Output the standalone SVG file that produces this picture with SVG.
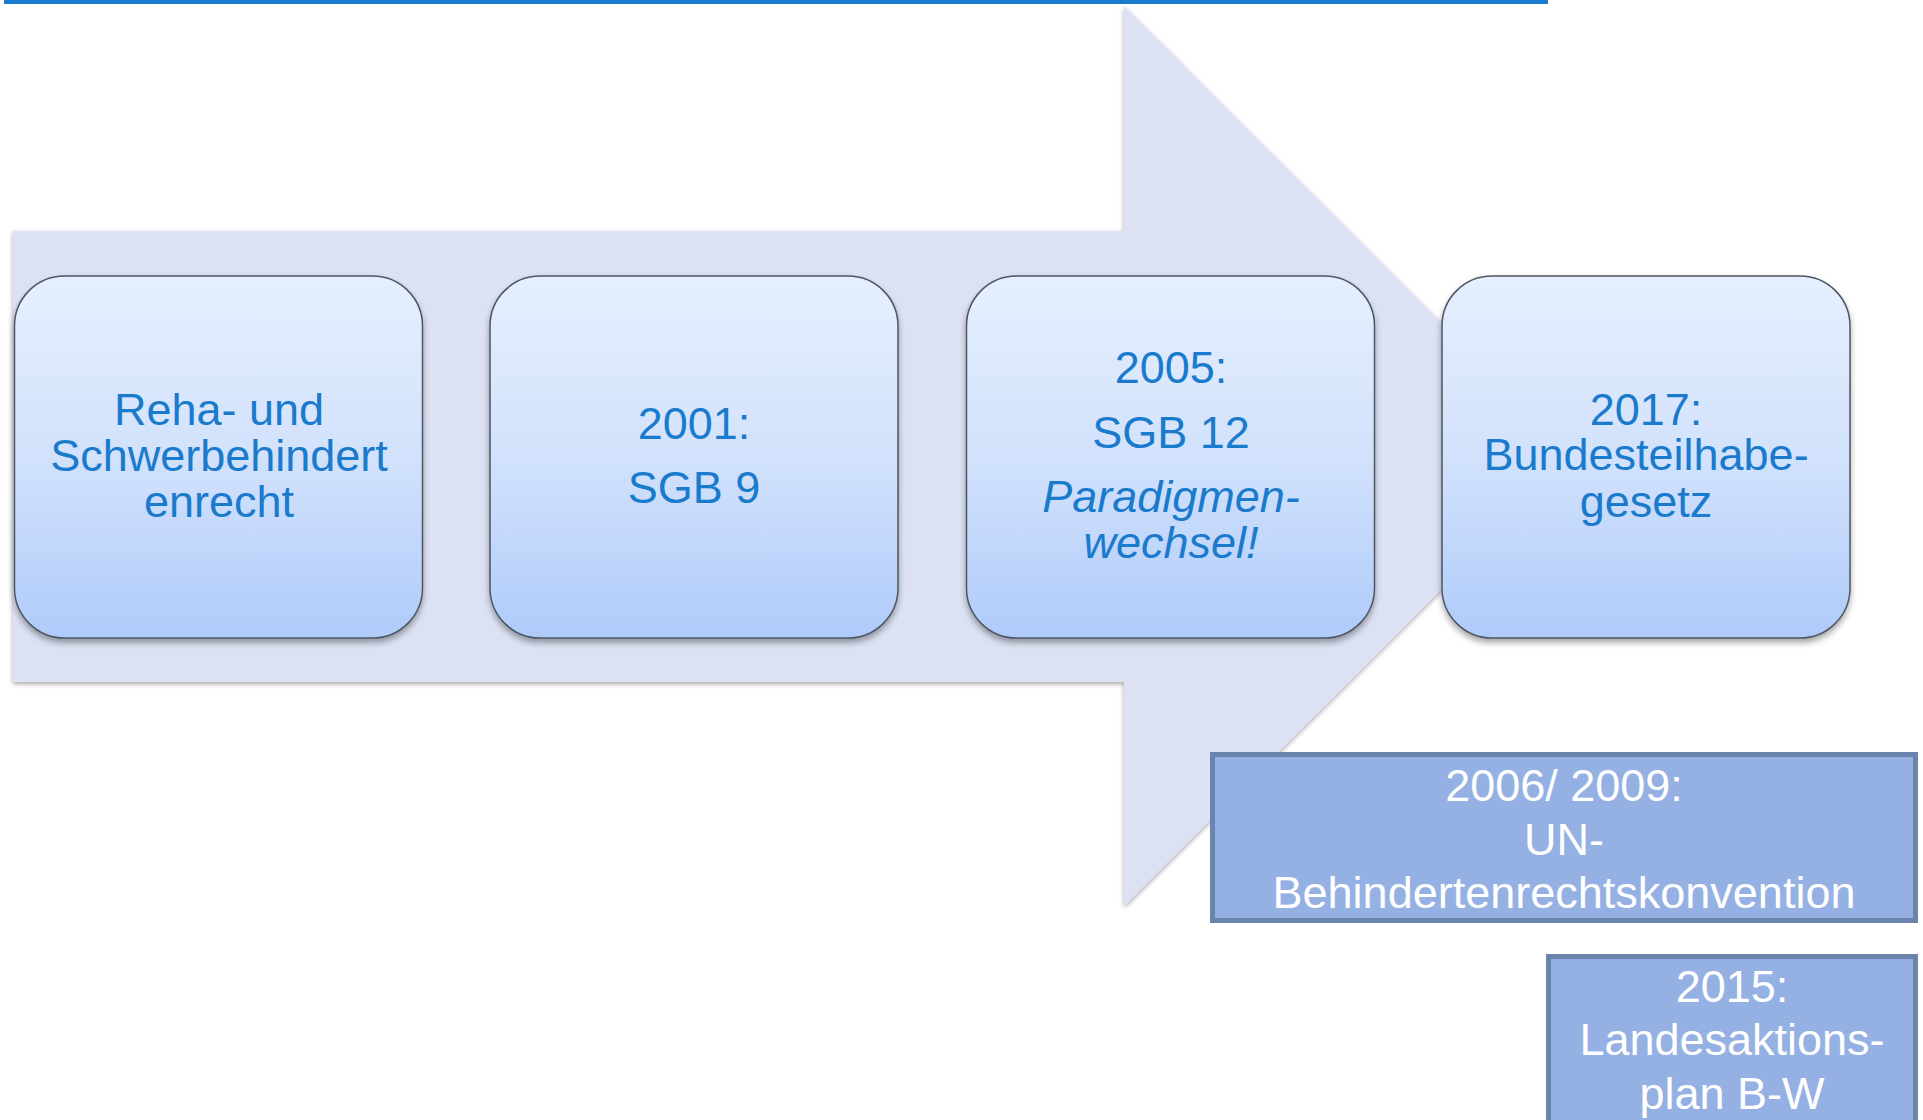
<svg xmlns="http://www.w3.org/2000/svg" width="1923" height="1120" viewBox="0 0 1923 1120">
  <defs>
    <linearGradient id="boxFill" x1="0" y1="0" x2="0" y2="1">
      <stop offset="0" stop-color="#E5EFFE"/>
      <stop offset="0.5" stop-color="#D2E2FC"/>
      <stop offset="1" stop-color="#AFCBFA"/>
    </linearGradient>
    <filter id="arrowShadow" x="-5%" y="-5%" width="110%" height="110%">
      <feGaussianBlur in="SourceAlpha" stdDeviation="2.5"/>
      <feOffset dx="0" dy="2" result="blur"/>
      <feComponentTransfer><feFuncA type="linear" slope="0.35"/></feComponentTransfer>
      <feMerge><feMergeNode/><feMergeNode in="SourceGraphic"/></feMerge>
    </filter>
    <filter id="boxShadow" x="-10%" y="-10%" width="120%" height="125%">
      <feGaussianBlur in="SourceAlpha" stdDeviation="3"/>
      <feOffset dx="0" dy="4" result="blur"/>
      <feComponentTransfer><feFuncA type="linear" slope="0.35"/></feComponentTransfer>
      <feMerge><feMergeNode/><feMergeNode in="SourceGraphic"/></feMerge>
    </filter>
  </defs>
  <style>
    .step { fill: url(#boxFill); stroke: #4E5662; stroke-width: 1.5; filter: url(#boxShadow); }
    .step-text { font-family: "Liberation Sans", Arial, sans-serif; font-size: 45px; fill: #1A7ACC; text-anchor: middle; }
    .em { font-style: italic; }
    .note { fill: #95B0E3; stroke: #6B84AE; stroke-width: 5; }
    .note-text { font-family: "Liberation Sans", Arial, sans-serif; font-size: 45px; fill: #FFFFFF; text-anchor: middle; }
  </style>

  <rect width="1923" height="1120" fill="#FFFFFF"/>

  <!-- title rule -->
  <rect x="4" y="0" width="1544" height="4" fill="#1A7BCF"/>

  <!-- background arrow -->
  <g id="connectors">
    <polygon id="timeline-arrow" points="13,231 1124,231 1124,6 1575,456 1124,906 1124,682 13,682" fill="#DCE2F3" filter="url(#arrowShadow)"/>
  </g>

  <g id="step-reha">
    <rect class="step" x="14.5" y="276" width="408" height="362" rx="50" ry="50"/>
    <text class="step-text" x="219" y="425">Reha- und</text>
    <text class="step-text" x="219" y="471">Schwerbehindert</text>
    <text class="step-text" x="219" y="517">enrecht</text>
  </g>

  <g id="step-2001">
    <rect class="step" x="490" y="276" width="408" height="362" rx="50" ry="50"/>
    <text class="step-text" x="694" y="439">2001:</text>
    <text class="step-text" x="694" y="503">SGB 9</text>
  </g>

  <g id="step-2005">
    <rect class="step" x="966.5" y="276" width="408" height="362" rx="50" ry="50"/>
    <text class="step-text" x="1171" y="383">2005:</text>
    <text class="step-text" x="1171" y="448">SGB 12</text>
    <text class="step-text em" x="1171" y="512">Paradigmen-</text>
    <text class="step-text em" x="1171" y="558">wechsel!</text>
  </g>

  <g id="step-2017">
    <rect class="step" x="1442" y="276" width="408" height="362" rx="50" ry="50"/>
    <text class="step-text" x="1646" y="425">2017:</text>
    <text class="step-text" x="1646" y="470">Bundesteilhabe-</text>
    <text class="step-text" x="1646" y="517">gesetz</text>
  </g>

  <g id="note-un">
    <rect class="note" x="1212.5" y="754.5" width="703" height="166"/>
    <text class="note-text" x="1564" y="801">2006/ 2009:</text>
    <text class="note-text" x="1564" y="855">UN-</text>
    <text class="note-text" x="1564" y="908">Behindertenrechtskonvention</text>
  </g>

  <g id="note-2015">
    <rect class="note" x="1548.5" y="956.5" width="367" height="200"/>
    <text class="note-text" x="1732" y="1002">2015:</text>
    <text class="note-text" x="1732" y="1055">Landesaktions-</text>
    <text class="note-text" x="1732" y="1109">plan B-W</text>
  </g>
</svg>
